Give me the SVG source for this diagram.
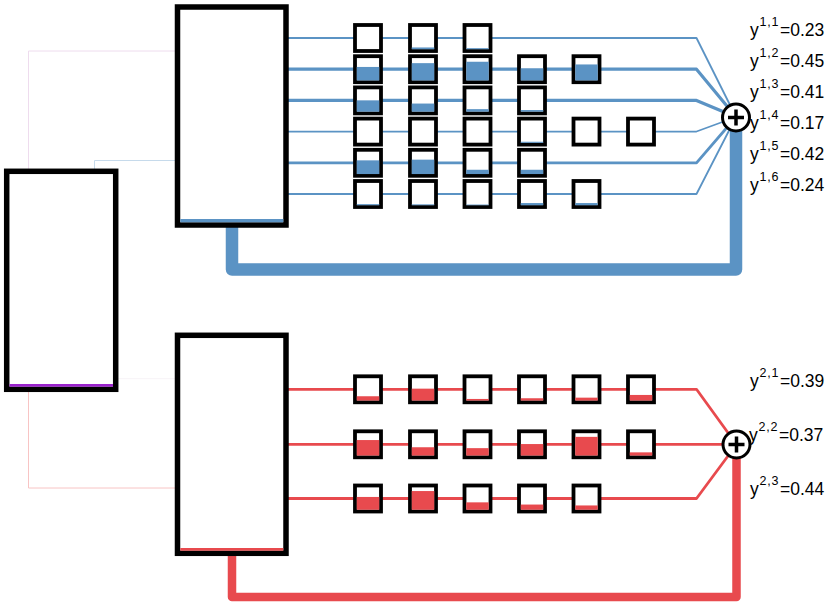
<svg xmlns="http://www.w3.org/2000/svg" width="830" height="605" viewBox="0 0 830 605">
<style>
.box{fill:#fff;stroke:#000;stroke-width:5.5}
.sq{fill:#fff;stroke:#000;stroke-width:3.8}
.bf{fill:#5b93c4}
.rf{fill:#e84a4e}
.bl{fill:none;stroke:#5b93c4;stroke-linejoin:round}
.rl{fill:none;stroke:#e84a4e;stroke-width:2.8;stroke-linejoin:round}
.sum{fill:#fff;stroke:#000;stroke-width:3}
.plus{stroke:#000;stroke-width:3.5}
.lbl{font-family:"Liberation Sans",Arial,sans-serif;font-size:17.5px;fill:#000}
.sup{font-size:12.5px;letter-spacing:0.8px}
</style>
<rect width="830" height="605" fill="#fff"/>
<g id="connectors">
  <path d="M28.5,169 V51 H177" fill="none" stroke="#eedcee" stroke-width="1"/>
  <path d="M94.5,169 V160.5 H177" fill="none" stroke="#c6daeb" stroke-width="1"/>
  <path d="M28.5,392 V488 H177" fill="none" stroke="#f8c4c4" stroke-width="1"/>
  <path d="M118,378.7 H177" fill="none" stroke="#f7f3f7" stroke-width="1"/>
  <path class="bl" d="M288,38 H696.5 L736,117" stroke-width="1.8"/>
  <path class="bl" d="M288,69.2 H696.5 L736,117" stroke-width="3.2"/>
  <path class="bl" d="M288,100.4 H696.5 L736,117" stroke-width="3.2"/>
  <path class="bl" d="M288,131.6 H696.5 L736,117" stroke-width="1.6"/>
  <path class="bl" d="M288,162.8 H696.5 L736,117" stroke-width="2.8"/>
  <path class="bl" d="M288,194 H696.5 L736,117" stroke-width="1.8"/>
  <path class="bl" d="M232,222 V269.5 H736 V117" stroke-width="12.5"/>
  <path class="rl" d="M288,389.3 H696.5 L736.5,444.5"/>
  <path class="rl" d="M288,444.3 H736.5"/>
  <path class="rl" d="M288,498.5 H696.5 L736.5,444.5"/>
  <path d="M232,550 V597 H736.5 V444.5" fill="none" stroke="#e84a4e" stroke-width="8.5" stroke-linejoin="round"/>
</g>
<g id="input">
  <rect class="box" x="6.7" y="171.3" width="109" height="218"/>
  <rect x="9.5" y="384" width="103.5" height="2.7" fill="#9a22cc"/>
</g>
<g id="block1">
  <rect class="box" x="177.5" y="7" width="108.5" height="218"/>
  <rect x="180.3" y="219" width="103" height="3.3" fill="#5b93c4"/>
</g>
<g id="block2">
  <rect class="box" x="177.5" y="335.3" width="108.5" height="218"/>
  <rect x="180.3" y="548" width="103" height="2.7" fill="#e84a4e"/>
</g>
<g id="units1">
  <rect class="sq" x="355" y="25" width="26" height="26"/>
  <rect class="sq" x="410" y="25" width="26" height="26"/>
  <rect class="bf" x="411.75" y="47.45" width="22.5" height="1.8"/>
  <rect class="sq" x="464.5" y="25" width="26" height="26"/>
  <rect class="bf" x="466.25" y="48.15" width="22.5" height="1.1"/>
  <rect class="sq" x="355" y="56.2" width="26" height="26"/>
  <rect class="bf" x="356.75" y="66.95" width="22.5" height="13.5"/>
  <rect class="sq" x="410" y="56.2" width="26" height="26"/>
  <rect class="bf" x="411.75" y="63.15" width="22.5" height="17.3"/>
  <rect class="sq" x="464.5" y="56.2" width="26" height="26"/>
  <rect class="bf" x="466.25" y="61.75" width="22.5" height="18.7"/>
  <rect class="sq" x="519" y="56.2" width="26" height="26"/>
  <rect class="bf" x="520.75" y="68.25" width="22.5" height="12.2"/>
  <rect class="sq" x="573.5" y="56.2" width="26" height="26"/>
  <rect class="bf" x="575.25" y="64.45" width="22.5" height="16"/>
  <rect class="sq" x="355" y="87.4" width="26" height="26"/>
  <rect class="bf" x="356.75" y="100.35" width="22.5" height="11.3"/>
  <rect class="sq" x="410" y="87.4" width="26" height="26"/>
  <rect class="bf" x="411.75" y="103.55" width="22.5" height="8.1"/>
  <rect class="sq" x="464.5" y="87.4" width="26" height="26"/>
  <rect class="bf" x="466.25" y="109.15" width="22.5" height="2.5"/>
  <rect class="sq" x="519" y="87.4" width="26" height="26"/>
  <rect class="bf" x="520.75" y="110.05" width="22.5" height="1.6"/>
  <rect class="sq" x="355" y="118.6" width="26" height="26"/>
  <rect class="sq" x="410" y="118.6" width="26" height="26"/>
  <rect class="sq" x="464.5" y="118.6" width="26" height="26"/>
  <rect class="sq" x="519" y="118.6" width="26" height="26"/>
  <rect class="bf" x="520.75" y="141.75" width="22.5" height="1.1"/>
  <rect class="sq" x="573.5" y="118.6" width="26" height="26"/>
  <rect class="sq" x="628" y="118.6" width="26" height="26"/>
  <rect class="sq" x="355" y="149.8" width="26" height="26"/>
  <rect class="bf" x="356.75" y="160.35" width="22.5" height="13.7"/>
  <rect class="sq" x="410" y="149.8" width="26" height="26"/>
  <rect class="bf" x="411.75" y="159.65" width="22.5" height="14.4"/>
  <rect class="sq" x="464.5" y="149.8" width="26" height="26"/>
  <rect class="bf" x="466.25" y="169.75" width="22.5" height="4.3"/>
  <rect class="sq" x="519" y="149.8" width="26" height="26"/>
  <rect class="bf" x="520.75" y="169.75" width="22.5" height="4.3"/>
  <rect class="sq" x="355" y="181" width="26" height="26"/>
  <rect class="bf" x="356.75" y="204.15" width="22.5" height="1.1"/>
  <rect class="sq" x="410" y="181" width="26" height="26"/>
  <rect class="bf" x="411.75" y="204.35" width="22.5" height="0.9"/>
  <rect class="sq" x="464.5" y="181" width="26" height="26"/>
  <rect class="bf" x="466.25" y="204.55" width="22.5" height="0.7"/>
  <rect class="sq" x="519" y="181" width="26" height="26"/>
  <rect class="bf" x="520.75" y="203.05" width="22.5" height="2.2"/>
  <rect class="sq" x="573.5" y="181" width="26" height="26"/>
  <rect class="bf" x="575.25" y="203.05" width="22.5" height="2.2"/>
</g>
<g id="units2">
  <rect class="sq" x="355" y="376.3" width="26" height="26"/>
  <rect class="rf" x="356.75" y="396.25" width="22.5" height="4.3"/>
  <rect class="sq" x="410" y="376.3" width="26" height="26"/>
  <rect class="rf" x="411.75" y="388.65" width="22.5" height="11.9"/>
  <rect class="sq" x="464.5" y="376.3" width="26" height="26"/>
  <rect class="rf" x="466.25" y="398.95" width="22.5" height="1.6"/>
  <rect class="sq" x="519" y="376.3" width="26" height="26"/>
  <rect class="rf" x="520.75" y="398.25" width="22.5" height="2.3"/>
  <rect class="sq" x="573.5" y="376.3" width="26" height="26"/>
  <rect class="rf" x="575.25" y="397.65" width="22.5" height="2.9"/>
  <rect class="sq" x="628" y="376.3" width="26" height="26"/>
  <rect class="rf" x="629.75" y="394.95" width="22.5" height="5.6"/>
  <rect class="sq" x="355" y="431.3" width="26" height="26"/>
  <rect class="rf" x="356.75" y="440.05" width="22.5" height="15.5"/>
  <rect class="sq" x="410" y="431.3" width="26" height="26"/>
  <rect class="rf" x="411.75" y="447.25" width="22.5" height="8.3"/>
  <rect class="sq" x="464.5" y="431.3" width="26" height="26"/>
  <rect class="rf" x="466.25" y="448.15" width="22.5" height="7.4"/>
  <rect class="sq" x="519" y="431.3" width="26" height="26"/>
  <rect class="rf" x="520.75" y="444.05" width="22.5" height="11.5"/>
  <rect class="sq" x="573.5" y="431.3" width="26" height="26"/>
  <rect class="rf" x="575.25" y="436.85" width="22.5" height="18.7"/>
  <rect class="sq" x="628" y="431.3" width="26" height="26"/>
  <rect class="rf" x="629.75" y="452.35" width="22.5" height="3.2"/>
  <rect class="sq" x="355" y="485.5" width="26" height="26"/>
  <rect class="rf" x="356.75" y="496.95" width="22.5" height="12.8"/>
  <rect class="sq" x="410" y="485.5" width="26" height="26"/>
  <rect class="rf" x="411.75" y="491.05" width="22.5" height="18.7"/>
  <rect class="sq" x="464.5" y="485.5" width="26" height="26"/>
  <rect class="rf" x="466.25" y="502.35" width="22.5" height="7.4"/>
  <rect class="sq" x="519" y="485.5" width="26" height="26"/>
  <rect class="rf" x="520.75" y="504.55" width="22.5" height="5.2"/>
  <rect class="sq" x="573.5" y="485.5" width="26" height="26"/>
  <rect class="rf" x="575.25" y="505.45" width="22.5" height="4.3"/>
</g>
<g id="sum1">
  <circle class="sum" cx="736" cy="117.5" r="13.5"/>
  <path class="plus" d="M728,117.5 H744 M736,109.5 V125.5"/>
</g>
<g id="sum2">
  <circle class="sum" cx="736.5" cy="444.5" r="13.5"/>
  <path class="plus" d="M728.5,444.5 H744.5 M736.5,436.5 V452.5"/>
</g>
<g id="labels1" class="lbl">
  <text x="750" y="35.5">y<tspan class="sup" x="759.5" y="25.5">1,1</tspan><tspan x="780" y="35.5">=0.23</tspan></text>
  <text x="750" y="66.5">y<tspan class="sup" x="759.5" y="56.5">1,2</tspan><tspan x="780" y="66.5">=0.45</tspan></text>
  <text x="750" y="97.5">y<tspan class="sup" x="759.5" y="87.5">1,3</tspan><tspan x="780" y="97.5">=0.41</tspan></text>
  <text x="750" y="128.5">y<tspan class="sup" x="759.5" y="118.5">1,4</tspan><tspan x="780" y="128.5">=0.17</tspan></text>
  <text x="750" y="159.5">y<tspan class="sup" x="759.5" y="149.5">1,5</tspan><tspan x="780" y="159.5">=0.42</tspan></text>
  <text x="750" y="190.5">y<tspan class="sup" x="759.5" y="180.5">1,6</tspan><tspan x="780" y="190.5">=0.24</tspan></text>
</g>
<g id="labels2" class="lbl">
  <text x="750" y="386.5">y<tspan class="sup" x="759.5" y="376.5">2,1</tspan><tspan x="780" y="386.5">=0.39</tspan></text>
  <text x="749" y="440.5">y<tspan class="sup" x="758.5" y="430.5">2,2</tspan><tspan x="779" y="440.5">=0.37</tspan></text>
  <text x="750" y="494.5">y<tspan class="sup" x="759.5" y="484.5">2,3</tspan><tspan x="780" y="494.5">=0.44</tspan></text>
</g>
</svg>
